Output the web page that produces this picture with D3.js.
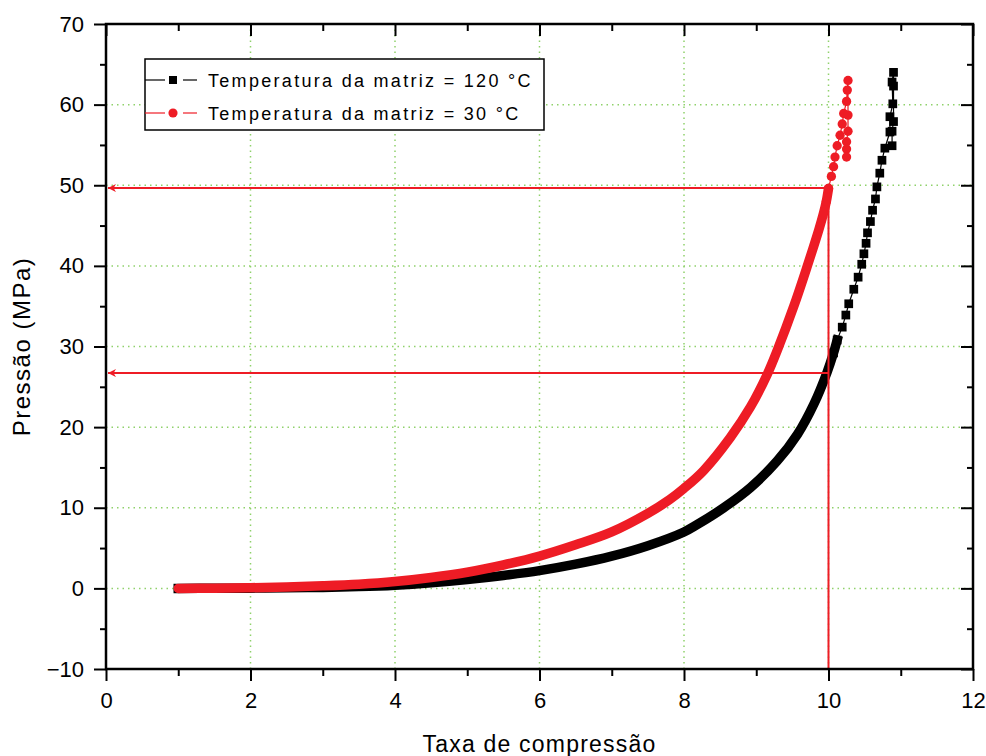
<!DOCTYPE html>
<html>
<head>
<meta charset="utf-8">
<script src="https://cdn.jsdelivr.net/npm/d3@7"></script>
<style>
  body { margin: 0; background: #fff; }
  svg text { font-family: 'Liberation Sans', Arial, sans-serif; fill: #000; }
</style>
</head>
<body>
<div id="wrapper"></div>
<script>
// Data
const blackX = [1.0, 1.5, 2.0, 2.5, 3.0, 3.5, 4.0, 4.5, 5.0, 5.5, 6.0, 6.5, 7.0, 7.5, 8.0, 8.18, 8.55, 8.92, 9.29, 9.57, 9.8, 9.98, 10.07, 10.12, 10.19, 10.24,
  10.28, 10.35, 10.41, 10.46, 10.49, 10.52, 10.54, 10.58, 10.61, 10.65, 10.67, 10.71, 10.74, 10.78, 10.85, 10.85, 10.89, 10.88, 10.9, 10.9, 10.9, 10.88, 10.88];
const blackY = [0, 0.01, 0.03, 0.07, 0.12, 0.22, 0.4, 0.7, 1.1, 1.6, 2.2, 3.0, 4.0, 5.3, 7.0, 7.9, 10.0, 12.5, 15.8, 19.1, 22.9, 26.8, 29.2, 30.8, 32.4, 33.9,
  35.3, 37.1, 38.6, 40.2, 41.5, 42.8, 44.1, 45.5, 46.9, 48.3, 49.8, 51.5, 53.1, 54.6, 56.6, 58.5, 60.1, 62.8, 64.0, 62.3, 57.9, 56.7, 54.9];

const redX = [1.0, 1.5, 2.0, 2.5, 3.0, 3.5, 4.0, 4.5, 5.0, 5.5, 6.0, 6.5, 7.0, 7.5, 7.8, 8.0, 8.27, 8.64, 8.92, 9.15, 9.29, 9.52, 9.7, 9.87, 9.93, 9.97, 10.0,
  10.04, 10.07, 10.09, 10.12, 10.16, 10.19, 10.21, 10.25, 10.26, 10.27, 10.27, 10.27, 10.25, 10.25, 10.25];
const redY = [0, 0.02, 0.08, 0.18, 0.32, 0.52, 0.85, 1.35, 2.0, 2.9, 4.0, 5.4, 7.0, 9.3, 11.0, 12.4, 14.6, 18.7, 22.5, 26.5, 29.5, 35.0, 39.8, 44.6, 46.5, 48.0, 49.6,
  51.1, 52.3, 53.5, 54.9, 56.2, 57.6, 58.9, 60.4, 61.8, 63.0, 58.7, 56.7, 55.4, 54.5, 53.5];

const seriesNames = ['Temperatura da matriz = 120 °C', 'Temperatura da matriz = 30 °C'];
const xTicks = [0, 2, 4, 6, 8, 10, 12];
const xMinorTicks = [1, 3, 5, 7, 9, 11];
const yTicks = [-10, 0, 10, 20, 30, 40, 50, 60, 70];
const yMinorTicks = [-5, 5, 15, 25, 35, 45, 55, 65];
const guideX = 10;
const guideY = [49.65, 26.7];

const RED = '#ee1c25';

const dimensions = {
  width: 986,
  height: 756,
  margin: { top: 24, right: 13, bottom: 87, left: 106 },
};
dimensions.boundedWidth = dimensions.width - dimensions.margin.left - dimensions.margin.right;
dimensions.boundedHeight = dimensions.height - dimensions.margin.top - dimensions.margin.bottom;

const xScale = d3.scaleLinear().domain([0, 12]).range([0, dimensions.boundedWidth]);
const yScale = d3.scaleLinear().domain([-10, 70]).range([dimensions.boundedHeight, 0]);

const wrapper = d3.select('#wrapper')
  .append('svg')
  .attr('width', dimensions.width)
  .attr('height', dimensions.height);

const bounds = wrapper.append('g')
  .attr('transform', `translate(${dimensions.margin.left}, ${dimensions.margin.top})`);

// Grid
const grid = bounds.append('g')
  .attr('stroke', '#8fd16b')
  .attr('stroke-width', 1.5)
  .attr('stroke-dasharray', '1.5,4');
grid.selectAll('.gx').data(xTicks.slice(1, -1)).join('line')
  .attr('x1', (d) => xScale(d)).attr('x2', (d) => xScale(d))
  .attr('y1', 0).attr('y2', dimensions.boundedHeight);
grid.selectAll('.gy').data(yTicks.slice(1, -1)).join('line')
  .attr('y1', (d) => yScale(d)).attr('y2', (d) => yScale(d))
  .attr('x1', 0).attr('x2', dimensions.boundedWidth);

// Series
const series = [
  { name: seriesNames[0], xs: blackX, ys: blackY, color: '#000', shape: 'square', band: 31 },
  { name: seriesNames[1], xs: redX, ys: redY, color: RED, shape: 'circle', band: 50 },
];

const lineGenerator = d3.line()
  .x((d) => xScale(d[0]))
  .y((d) => yScale(d[1]));
const bandGenerator = d3.line()
  .x((d) => xScale(d[0]))
  .y((d) => yScale(d[1]))
  .curve(d3.curveCatmullRom);

const symbolFor = (s, size) => d3.symbol()
  .type(s.shape === 'circle' ? d3.symbolCircle : d3.symbolSquare)
  .size(size || (s.shape === 'circle' ? 68 : 76));

series.forEach((s) => {
  const pts = s.xs.map((x, i) => [x, s.ys[i]]);
  const dense = pts.filter((d) => d[1] <= s.band);
  // thin connecting line
  bounds.append('path')
    .attr('d', lineGenerator(pts))
    .attr('fill', 'none')
    .attr('stroke', s.color)
    .attr('stroke-width', 1.2);
  // heavily overlapping symbols read as a thick band
  bounds.append('path')
    .attr('d', bandGenerator(dense))
    .attr('fill', 'none')
    .attr('stroke', s.color)
    .attr('stroke-width', 9.5)
    .attr('stroke-linecap', s.shape === 'circle' ? 'round' : 'square')
    .attr('stroke-linejoin', 'round');
  bounds.append('g').selectAll('path').data(pts.filter((d) => d[1] > s.band - 3)).join('path')
    .attr('d', symbolFor(s))
    .attr('transform', (d) => `translate(${xScale(d[0])}, ${yScale(d[1])})`)
    .attr('fill', s.color);
});

// Guide lines with arrows
const defs = wrapper.append('defs');
defs.append('marker')
  .attr('id', 'arrow')
  .attr('viewBox', '0 0 10 10')
  .attr('refX', 10).attr('refY', 5)
  .attr('markerWidth', 11).attr('markerHeight', 8)
  .attr('markerUnits', 'userSpaceOnUse')
  .attr('orient', 'auto')
  .append('path')
  .attr('d', 'M10,5 L0,0 L3,5 L0,10 Z')
  .attr('fill', RED);

bounds.append('line')
  .attr('x1', xScale(guideX)).attr('x2', xScale(guideX))
  .attr('y1', yScale(guideY[0])).attr('y2', yScale(-10))
  .attr('stroke', RED).attr('stroke-width', 2);

bounds.selectAll('.guide-h').data(guideY).join('line')
  .attr('x1', xScale(guideX)).attr('x2', xScale(0) + 2)
  .attr('y1', (d) => yScale(d)).attr('y2', (d) => yScale(d))
  .attr('stroke', RED).attr('stroke-width', 2)
  .attr('marker-end', 'url(#arrow)');

// Axes
const styleAxis = (g) => {
  g.select('.domain').remove();
  g.selectAll('line').attr('stroke', '#000').attr('stroke-width', 2);
  g.selectAll('text').style('font-size', '22px').style('font-family', "'Liberation Sans', Arial, sans-serif");
};

const xAxis = d3.axisBottom(xScale).tickValues(xTicks).tickSize(12).tickPadding(11).tickFormat(d3.format('d'));
bounds.append('g').attr('transform', `translate(0, ${dimensions.boundedHeight})`).call(xAxis).call(styleAxis);
bounds.append('g').attr('transform', `translate(0, ${dimensions.boundedHeight})`)
  .call(d3.axisBottom(xScale).tickValues(xMinorTicks).tickSize(7).tickFormat('')).call(styleAxis);

const yAxis = d3.axisLeft(yScale).tickValues(yTicks).tickSize(12).tickPadding(10).tickFormat(d3.format('d'));
bounds.append('g').call(yAxis).call(styleAxis);
bounds.append('g').call(d3.axisLeft(yScale).tickValues(yMinorTicks).tickSize(6).tickFormat('')).call(styleAxis);

// top & right: ticks pointing inward
bounds.append('g').call(d3.axisBottom(xScale).tickValues(xTicks).tickSize(12).tickFormat('')).call(styleAxis);
bounds.append('g').call(d3.axisBottom(xScale).tickValues(xMinorTicks).tickSize(7).tickFormat('')).call(styleAxis);
bounds.append('g').attr('transform', `translate(${dimensions.boundedWidth}, 0)`)
  .call(d3.axisLeft(yScale).tickValues(yTicks).tickSize(12).tickFormat('')).call(styleAxis);
bounds.append('g').attr('transform', `translate(${dimensions.boundedWidth}, 0)`)
  .call(d3.axisLeft(yScale).tickValues(yMinorTicks).tickSize(6).tickFormat('')).call(styleAxis);

// frame
bounds.append('rect')
  .attr('width', dimensions.boundedWidth)
  .attr('height', dimensions.boundedHeight)
  .attr('fill', 'none')
  .attr('stroke', '#000')
  .attr('stroke-width', 2.5);

// Axis labels
wrapper.append('text')
  .attr('x', dimensions.margin.left + xScale(6))
  .attr('y', 752)
  .attr('text-anchor', 'middle')
  .style('font-size', '23px')
  .style('letter-spacing', '1.2px')
  .text('Taxa de compressão');

wrapper.append('text')
  .attr('transform', `translate(30, ${dimensions.margin.top + yScale(30)}) rotate(-90)`)
  .attr('text-anchor', 'middle')
  .style('font-size', '24px')
  .style('letter-spacing', '1.5px')
  .text('Pressão (MPa)');

// Legend
const legend = wrapper.append('g').attr('transform', 'translate(145, 59)');
legend.append('rect')
  .attr('width', 399).attr('height', 71)
  .attr('fill', '#fff').attr('stroke', '#000').attr('stroke-width', 1.5);

series.forEach((s, i) => {
  const row = legend.append('g').attr('transform', `translate(0, ${21 + i * 33})`);
  row.append('line').attr('x1', 0).attr('x2', 20).attr('stroke', s.color).attr('stroke-width', 1.2);
  row.append('line').attr('x1', 38).attr('x2', 52).attr('stroke', s.color).attr('stroke-width', 1.2);
  row.append('path')
    .attr('d', symbolFor(s, s.shape === 'circle' ? 66 : 64))
    .attr('transform', 'translate(28, 0)')
    .attr('fill', s.color);
  row.append('text')
    .attr('x', 63).attr('y', 7)
    .style('font-size', '18px')
    .style('letter-spacing', '2.3px')
    .text(s.name);
});
</script>
</body>
</html>
